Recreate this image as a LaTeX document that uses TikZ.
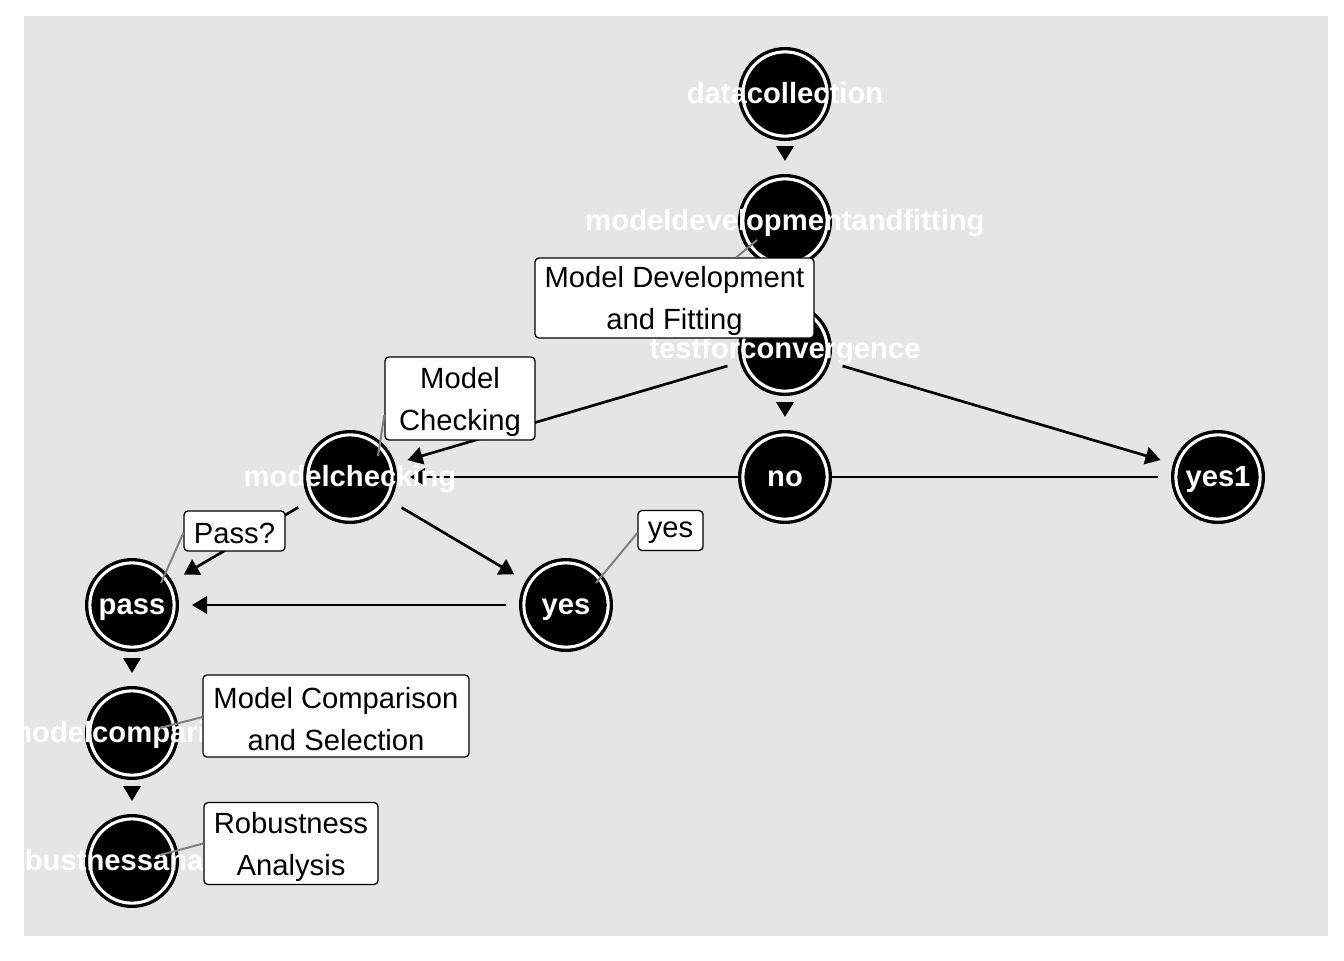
\documentclass[tikz,border=0pt]{standalone}
\usepackage{fontspec}
\setmainfont{Liberation Sans}
\usetikzlibrary{arrows.meta,calc}
\definecolor{panel}{RGB}{229,229,229}
\definecolor{leadc}{RGB}{128,128,128}
\pgfdeclarelayer{bg}
\pgfdeclarelayer{edges}
\pgfsetlayers{bg,edges,main}
\begin{document}
\begin{tikzpicture}[x=0.75pt,y=-0.75pt,
 gnode/.style={circle, fill=black, inner sep=0pt, minimum size=70.5pt,
   path picture={\draw[white,line width=2.3pt] (path picture bounding box.center) circle (31.6pt);}},
 gtext/.style={anchor=base, text=white, inner sep=0pt, font=\bfseries\fontsize{21.9pt}{26pt}\selectfont},
 edge/.style={line width=2pt, -{Triangle[length=11.25pt,width=13pt]}, shorten <=45pt, shorten >=45pt},
 lbox/.style={draw=black, fill=white, rounded corners=3pt, line width=1pt, inner sep=0pt},
 ltext/.style={align=center, inner sep=0pt, font=\fontsize{21.9pt}{31.5pt}\selectfont},
 leader/.style={draw=leadc, line width=1.5pt}]
\useasboundingbox (0,0) rectangle (1344,960);
\begin{pgfonlayer}{bg}
\fill[white] (0,0) rectangle (1344,960);
\fill[panel] (24,16) rectangle (1328,936);
\end{pgfonlayer}
% nodes
\node[gnode] (dc) at (785,94) {};
\node[gnode] (md) at (785,221) {};
\node[gnode] (tc) at (785,349) {};
\node[gnode] (no) at (785,477) {};
\node[gnode] (y1) at (1218,477) {};
\node[gnode] (mc) at (350,477) {};
\node[gnode] (ps) at (132,605) {};
\node[gnode] (ys) at (566,605) {};
\node[gnode] (cmp) at (132,733) {};
\node[gnode] (rb) at (132,861) {};
% edges
\begin{pgfonlayer}{edges}
\draw[edge] (dc.center) -- (md.center);
\draw[edge] (md.center) -- (tc.center);
\draw[edge] (tc.center) -- (no.center);
\draw[edge] (tc.center) -- (mc.center);
\draw[edge] (tc.center) -- (y1.center);
\draw[edge] (y1.center) -- (mc.center);
\draw[edge] (mc.center) -- (ps.center);
\draw[edge] (mc.center) -- (ys.center);
\draw[edge] (ys.center) -- (ps.center);
\draw[edge] (ps.center) -- (cmp.center);
\draw[edge] (cmp.center) -- (rb.center);
\end{pgfonlayer}
% node texts
\node[gtext] (dct) at ($(dc)+(0,9.5)$) {datacollection};
\node[gtext] (mdt) at ($(md)+(0,9.5)$) {modeldevelopmentandfitting};
\node[gtext] (tct) at ($(tc)+(0,9.5)$) {testforconvergence};
\node[gtext] (not) at ($(no)+(0,9.5)$) {no};
\node[gtext] (y1t) at ($(y1)+(0,9.5)$) {yes1};
\node[gtext] (mct) at ($(mc)+(0,9.5)$) {modelchecking};
\node[gtext] (pst) at ($(ps)+(0,9.5)$) {pass};
\node[gtext] (yst) at ($(ys)+(0,9.5)$) {yes};
\node[gtext] (cmpt) at ($(cmp)+(0,9.5)$) {modelcomparison};
\node[gtext] (rbt) at ($(rb)+(0,9.5)$) {robustnessanalysis};
% leaders
\coordinate (mdp) at ($(md)+(-28,19)$);
\coordinate (mcp) at ($(mc)+(28,-21)$);
\coordinate (psp) at ($(ps)+(29,-22)$);
\coordinate (ysp) at ($(ys)+(30,-22)$);
\coordinate (cmpp) at ($(cmp)+(28,-5)$);
\coordinate (rbp) at ($(rb)+(28,-6)$);
% label boxes
\node[lbox, minimum width=209.25pt, minimum height=60pt] (mdfbox) at (674.5,298) {};
\node[lbox, minimum width=112.5pt, minimum height=62.25pt] (mckbox) at (460,398.5) {};
\node[lbox, minimum width=75.75pt, minimum height=30pt] (pbox) at (234.5,531) {};
\node[lbox, minimum width=48.75pt, minimum height=30pt] (ybox) at (670.5,530.5) {};
\node[lbox, minimum width=199.5pt, minimum height=61.5pt] (mcbox) at (336,716) {};
\node[lbox, minimum width=130.5pt, minimum height=61.5pt] (rbbox) at (291,843.5) {};
\draw[leader] ($(mdfbox.north west)+(202,0)$) -- (mdp);
\draw[leader] ($(mckbox.west)+(0,16.5)$) -- (mcp);
\draw[leader] ($(pbox.west)+(0,2)$) -- (psp);
\draw[leader] ($(ybox.west)+(0,2.5)$) -- (ysp);
\draw[leader] ($(mcbox.west)+(0,1)$) -- (cmpp);
\draw[leader] (rbbox.west) -- (rbp);
\node[ltext] (mdftx) at ($(mdfbox)+(0,3)$) {Model Development\\and Fitting};
\node[ltext] (mcktx) at ($(mckbox)+(0,3)$) {Model\\Checking};
\node[ltext] (ptx) at ($(pbox)+(0,2)$) {Pass?};
\node[ltext] (ytx) at ($(ybox)+(0,2)$) {yes};
\node[ltext] (mctx) at ($(mcbox)+(0,3)$) {Model Comparison\\and Selection};
\node[ltext] (rbtx) at ($(rbbox)+(0,3)$) {Robustness\\Analysis};
\end{tikzpicture}
\end{document}
